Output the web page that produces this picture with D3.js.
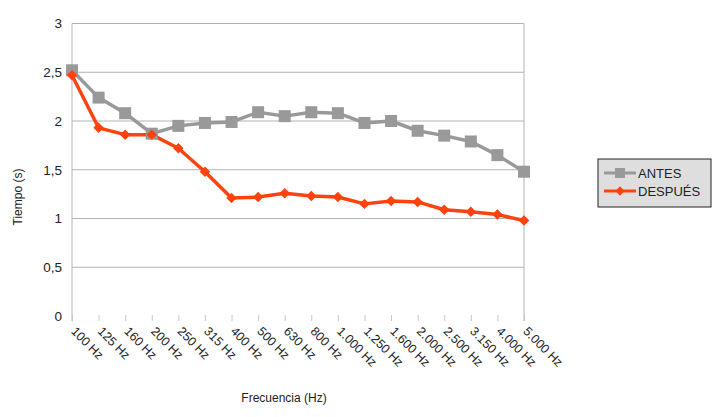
<!DOCTYPE html>
<html>
<head>
<meta charset="utf-8">
<script src="https://cdn.jsdelivr.net/npm/d3@7"></script>
<style>
  body { margin: 0; background: #fff; }
  text { font-family: "Liberation Sans", Arial, sans-serif; }
</style>
</head>
<body>
<div id="my_dataviz"></div>
<script>
// data
var categories = ["100 Hz", "125 Hz", "160 Hz", "200 Hz", "250 Hz", "315 Hz", "400 Hz", "500 Hz", "630 Hz",
  "800 Hz", "1.000 Hz", "1.250 Hz", "1.600 Hz", "2.000 Hz", "2.500 Hz", "3.150 Hz", "4.000 Hz", "5.000 Hz"];
var antes = [2.52, 2.24, 2.08, 1.87, 1.95, 1.98, 1.99, 2.09, 2.05, 2.09, 2.08, 1.98, 2.00, 1.90, 1.85, 1.79, 1.65, 1.48];
var despues = [2.47, 1.93, 1.86, 1.86, 1.72, 1.48, 1.21, 1.22, 1.26, 1.23, 1.22, 1.15, 1.18, 1.17, 1.09, 1.07, 1.04, 0.98];
var yTicks = [0, 0.5, 1, 1.5, 2, 2.5, 3];
var seriesNames = ["ANTES", "DESPUÉS"];

var W = 720, H = 417;
var margin = {top: 23.5, left: 72, right: 196, bottom: 101};
var width = W - margin.left - margin.right,
    height = H - margin.top - margin.bottom;

var svg = d3.select("#my_dataviz")
  .append("svg")
    .attr("width", W)
    .attr("height", H);
var g = svg.append("g")
    .attr("transform", "translate(" + margin.left + "," + margin.top + ")");

// scales
var x = d3.scalePoint()
  .domain(categories)
  .range([0, width]);
var y = d3.scaleLinear()
  .domain([0, 3])
  .range([height, 0]);

// gridlines (no line at 0)
g.selectAll("line.grid")
  .data(yTicks.filter(function(d) { return d > 0; }))
  .enter()
  .append("line")
    .attr("x1", 0).attr("x2", width)
    .attr("y1", function(d) { return y(d); })
    .attr("y2", function(d) { return y(d); })
    .attr("stroke", "#b3b3b3")
    .attr("stroke-width", 1);

// left and right frame lines
[0, width].forEach(function(px) {
  g.append("line")
    .attr("x1", px).attr("x2", px)
    .attr("y1", 0).attr("y2", height + 5)
    .attr("stroke", "#b3b3b3");
});

// y axis labels
var yAxis = g.append("g")
  .call(d3.axisLeft(y).tickValues(yTicks).tickSize(0).tickPadding(10)
    .tickFormat(function(d) { return String(d).replace(".", ","); }));
yAxis.select(".domain").remove();
yAxis.selectAll("text")
  .style("font-size", "13.5px")
  .attr("fill", "#222");

// x axis ticks and rotated labels
var xAxis = g.append("g")
  .attr("transform", "translate(0," + height + ")")
  .call(d3.axisBottom(x).tickSize(5));
xAxis.select(".domain").remove();
xAxis.selectAll(".tick line").attr("stroke", "#c8c8c8").attr("y1", -1);
xAxis.selectAll("text")
  .style("font-size", "12.5px")
  .attr("fill", "#222")
  .style("text-anchor", "start")
  .attr("x", 0)
  .attr("y", 0)
  .attr("dy", "0.35em")
  .attr("transform", "translate(1,13)rotate(45)");

// axis titles
svg.append("text")
  .attr("transform", "translate(22,197)rotate(-90)")
  .attr("text-anchor", "middle")
  .style("font-size", "12px")
  .attr("fill", "#222")
  .text("Tiempo (s)");
svg.append("text")
  .attr("x", 284)
  .attr("y", 402)
  .attr("text-anchor", "middle")
  .style("font-size", "12px")
  .attr("fill", "#222")
  .text("Frecuencia (Hz)");

// lines
var colors = ["#999999", "#ff420e"];
var line = d3.line()
  .x(function(d, i) { return x(categories[i]); })
  .y(function(d) { return y(d); });

[antes, despues].forEach(function(s, k) {
  g.append("path")
    .datum(s)
    .attr("fill", "none")
    .attr("stroke", colors[k])
    .attr("stroke-width", 3.5)
    .attr("stroke-linejoin", "round")
    .attr("d", line);
});

// markers
g.selectAll("rect.m")
  .data(antes)
  .enter()
  .append("rect")
    .attr("x", function(d, i) { return x(categories[i]) - 6; })
    .attr("y", function(d) { return y(d) - 6; })
    .attr("width", 12)
    .attr("height", 12)
    .attr("fill", colors[0]);

var diamond = d3.symbol().type(d3.symbolDiamond2).size(70);
g.selectAll("path.m")
  .data(despues)
  .enter()
  .append("path")
    .attr("d", diamond)
    .attr("transform", function(d, i) { return "translate(" + x(categories[i]) + "," + y(d) + ")"; })
    .attr("fill", colors[1]);

// legend
var leg = svg.append("g").attr("transform", "translate(598,159)");
leg.append("rect")
  .attr("width", 113).attr("height", 48)
  .attr("fill", "#dedede")
  .attr("stroke", "#222");
seriesNames.forEach(function(name, k) {
  var ly = 14 + k * 18;
  leg.append("line")
    .attr("x1", 6).attr("x2", 38)
    .attr("y1", ly).attr("y2", ly)
    .attr("stroke", colors[k]).attr("stroke-width", 3);
  if (k === 0) {
    leg.append("rect").attr("x", 17).attr("y", ly - 5).attr("width", 10).attr("height", 10).attr("fill", colors[0]);
  } else {
    leg.append("path").attr("d", d3.symbol().type(d3.symbolDiamond2).size(55))
      .attr("transform", "translate(22," + ly + ")").attr("fill", colors[1]);
  }
  leg.append("text")
    .attr("x", 40).attr("y", ly)
    .attr("dy", "0.35em")
    .style("font-size", "13px")
    .attr("fill", "#222")
    .text(name);
});
</script>
</body>
</html>
